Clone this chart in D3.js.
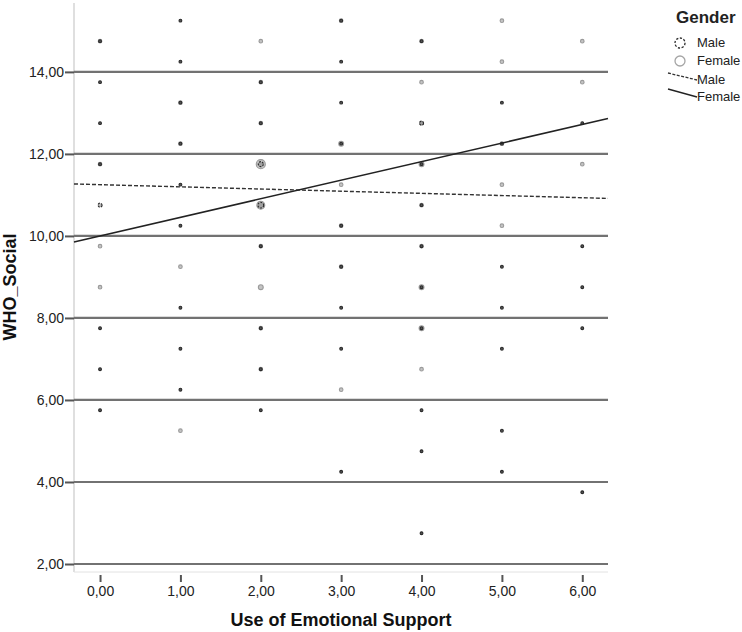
<!DOCTYPE html>
<html>
<head>
<meta charset="utf-8">
<script src="https://cdn.jsdelivr.net/npm/d3@7"></script>
<style>
  html, body { margin: 0; padding: 0; background: #fff; }
  svg { display: block; font-family: "Liberation Sans", Arial, sans-serif; }
</style>
</head>
<body>
<svg id="chart" width="742" height="632"></svg>
<script>
// ---- Data ----
const xCategories = [0, 1, 2, 3, 4, 5, 6];
const yTicks = [2, 4, 6, 8, 10, 12, 14];

// each point: x value, y value, male count, female count
const pointX = [
  0,0,0,0,0,0,0,0,0,0,
  1,1,1,1,1,1,1,1,1,1,1,
  2,2,2,2,2,2,2,2,2,2,
  3,3,3,3,3,3,3,3,3,3,3,
  4,4,4,4,4,4,4,4,4,4,4,4,
  5,5,5,5,5,5,5,5,5,5,5,
  6,6,6,6,6,6,6,6
];
const pointY = [
  14.75,13.75,12.75,11.75,10.75,9.75,8.75,7.75,6.75,5.75,
  15.25,14.25,13.25,12.25,11.25,10.25,9.25,8.25,7.25,6.25,5.25,
  14.75,13.75,12.75,11.75,10.75,9.75,8.75,7.75,6.75,5.75,
  15.25,14.25,13.25,12.25,11.25,10.25,9.25,8.25,7.25,6.25,4.25,
  14.75,13.75,12.75,11.75,10.75,9.75,8.75,7.75,6.75,5.75,4.75,2.75,
  15.25,14.25,13.25,12.25,11.25,10.25,9.25,8.25,7.25,5.25,4.25,
  14.75,13.75,12.75,11.75,9.75,8.75,7.75,3.75
];
const maleCount = [
  1,1,1,1,2,0,0,1,1,1,
  1,1,1,1,1,1,0,1,1,1,0,
  0,1,1,3,4,1,0,1,1,1,
  1,1,1,1,0,1,1,1,1,0,1,
  1,0,2,1,1,1,1,1,0,1,1,1,
  0,0,1,1,0,0,1,1,1,1,1,
  0,0,1,0,1,1,1,1
];
const femaleCount = [
  1,0,0,1,0,1,1,0,0,0,
  0,0,1,1,0,0,1,0,0,0,1,
  1,1,1,8,6,1,2,1,1,0,
  1,0,0,2,1,1,1,0,0,1,0,
  1,1,1,2,1,1,2,2,1,0,0,0,
  1,1,0,1,1,1,0,0,0,0,0,
  1,1,0,1,0,0,0,0
];

// regression fit lines (intercept, slope)
const fitSeries = ["Male", "Female"];
const fitIntercept = [11.25, 10.0];
const fitSlope = [-0.053, 0.453];

const xTitle = "Use of Emotional Support";
const yTitle = "WHO_Social";
const legendTitle = "Gender";

// ---- Layout ----
const svg = d3.select("#chart");
const pLeft = 74, pRight = 608, pTop = 3, pBottom = 572;
const xDomain = [-0.324, 6.32];
const yDomain = [1.805, 15.68];

const x = d3.scaleLinear().domain(xDomain).range([pLeft, pRight]);
const y = d3.scaleLinear().domain(yDomain).range([pBottom, pTop]);
const fmt = d => d3.format(".2f")(d).replace(".", ",");

// plot frame (light)
svg.append("line").attr("x1", pLeft).attr("x2", pLeft).attr("y1", pTop).attr("y2", pBottom)
  .attr("stroke", "#d4d4d4").attr("stroke-width", 1.5);
svg.append("line").attr("x1", pLeft).attr("x2", pRight).attr("y1", pBottom).attr("y2", pBottom)
  .attr("stroke", "#e2e2e2").attr("stroke-width", 1);

// horizontal grid lines
svg.append("g").selectAll("line").data(yTicks).join("line")
  .attr("x1", pLeft).attr("x2", pRight)
  .attr("y1", d => y(d)).attr("y2", d => y(d))
  .attr("stroke", "#727272").attr("stroke-width", 2.2);

// y axis
const yAxis = svg.append("g").attr("transform", `translate(${pLeft},0)`)
  .call(d3.axisLeft(y).tickValues(yTicks).tickFormat(fmt).tickSize(9).tickPadding(1));
yAxis.select(".domain").remove();
yAxis.selectAll(".tick line").attr("stroke", "#555").attr("stroke-width", 2);
yAxis.selectAll(".tick text").attr("fill", "#222").style("font-size", "14px")
  .style("font-family", "Liberation Sans, Arial, sans-serif");

// x axis
const xAxis = svg.append("g").attr("transform", `translate(0,${pBottom + 3})`)
  .call(d3.axisBottom(x).tickValues(xCategories).tickFormat(fmt).tickSize(7).tickPadding(4));
xAxis.select(".domain").remove();
xAxis.selectAll(".tick line").attr("stroke", "#555").attr("stroke-width", 2);
xAxis.selectAll(".tick text").attr("fill", "#222").style("font-size", "14px")
  .style("font-family", "Liberation Sans, Arial, sans-serif");

// points
const pts = pointX.map((d, i) => ({x: d, y: pointY[i], m: maleCount[i], f: femaleCount[i]}));
const rOf = n => 1.4 + 1.5 * (Math.sqrt(n) - 1);
const gp = svg.append("g");
gp.selectAll("circle.f").data(pts.filter(p => p.f > 0)).join("circle")
  .attr("class", "f")
  .attr("cx", p => x(p.x)).attr("cy", p => y(p.y))
  .attr("r", p => rOf(p.f) + 0.4)
  .attr("fill", "#c4c4c4").attr("stroke", "#9a9a9a").attr("stroke-width", 1.1);
gp.selectAll("circle.m").data(pts.filter(p => p.m > 0)).join("circle")
  .attr("class", "m")
  .attr("cx", p => x(p.x)).attr("cy", p => y(p.y))
  .attr("r", p => rOf(p.m))
  .attr("fill", p => p.m > 1 ? "#8a8a8a" : "#555").attr("fill-opacity", p => p.m > 1 ? 0.6 : 1)
  .attr("stroke", "#2a2a2a").attr("stroke-width", 1.1)
  .attr("stroke-dasharray", p => p.m > 1 ? "2,1.2" : null);

// fit lines
const lineGen = d3.line().x(d => x(d[0])).y(d => y(d[1]));
fitSeries.forEach((s, i) => {
  const pts2 = xDomain.map(v => [v, fitIntercept[i] + fitSlope[i] * v]);
  svg.append("path").attr("d", lineGen(pts2))
    .attr("fill", "none")
    .attr("stroke", s === "Male" ? "#333" : "#222")
    .attr("stroke-width", s === "Male" ? 1.4 : 1.5)
    .attr("stroke-dasharray", s === "Male" ? "4,2" : null);
});

// axis titles
svg.append("text").attr("x", (pLeft + pRight) / 2).attr("y", 626)
  .attr("text-anchor", "middle").attr("font-weight", "bold").attr("font-size", 18)
  .attr("fill", "#111").text(xTitle);
svg.append("text").attr("transform", `translate(16,287) rotate(-90)`)
  .attr("text-anchor", "middle").attr("font-weight", "bold").attr("font-size", 18)
  .attr("fill", "#111").text(yTitle);

// legend
const lg = svg.append("g");
lg.append("text").attr("x", 676).attr("y", 23).attr("font-weight", "bold")
  .attr("font-size", 17).attr("fill", "#222").text(legendTitle);
lg.append("circle").attr("cx", 680).attr("cy", 43).attr("r", 5)
  .attr("fill", "none").attr("stroke", "#2a2a2a").attr("stroke-width", 1.3).attr("stroke-dasharray", "2.2,1.6");
lg.append("circle").attr("cx", 680).attr("cy", 61).attr("r", 5)
  .attr("fill", "none").attr("stroke", "#a5a5a5").attr("stroke-width", 1.3);
lg.append("text").attr("x", 697).attr("y", 47).attr("font-size", 13).attr("fill", "#222").text("Male");
lg.append("text").attr("x", 697).attr("y", 65).attr("font-size", 13).attr("fill", "#222").text("Female");
lg.append("line").attr("x1", 668).attr("y1", 73).attr("x2", 697).attr("y2", 80)
  .attr("stroke", "#333").attr("stroke-width", 1.3).attr("stroke-dasharray", "3,1.5");
lg.append("line").attr("x1", 668).attr("y1", 89).attr("x2", 697).attr("y2", 97)
  .attr("stroke", "#222").attr("stroke-width", 1.4);
lg.append("text").attr("x", 697).attr("y", 84).attr("font-size", 13).attr("fill", "#222").text(fitSeries[0]);
lg.append("text").attr("x", 697).attr("y", 101).attr("font-size", 13).attr("fill", "#222").text(fitSeries[1]);
</script>
</body>
</html>
